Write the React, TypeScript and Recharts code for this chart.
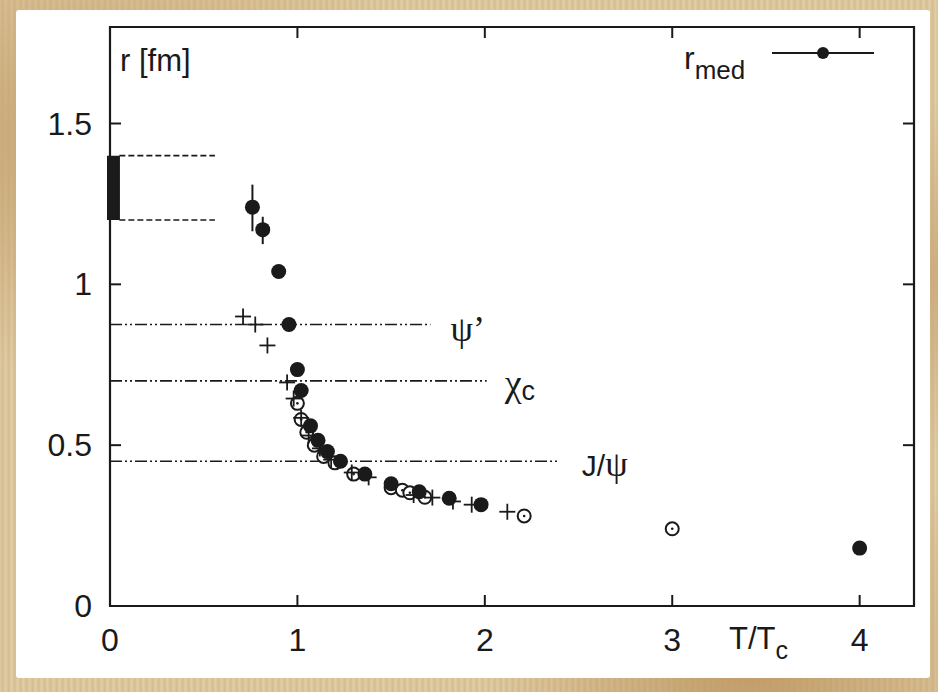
import { ScatterChart, Scatter, XAxis, YAxis, ReferenceLine, ReferenceArea, ErrorBar, Label } from 'recharts';

// median radius r_med (filled circles) with error bars on the first two
const medT = [0.76, 0.815, 0.9, 0.955, 1.0, 1.02, 1.07, 1.11, 1.16, 1.23, 1.36, 1.5, 1.65, 1.81, 1.98, 4.0];
const medR = [1.24, 1.17, 1.04, 0.875, 0.735, 0.67, 0.56, 0.515, 0.48, 0.45, 0.41, 0.38, 0.355, 0.335, 0.315, 0.18];
const medErrLo = [0.075, 0.045, 0, 0, 0, 0, 0, 0, 0, 0, 0, 0, 0, 0, 0, 0];
const medErrHi = [0.07, 0.04, 0, 0, 0, 0, 0, 0, 0, 0, 0, 0, 0, 0, 0, 0];

// open circles
const openT = [1.0, 1.02, 1.05, 1.09, 1.14, 1.2, 1.3, 1.5, 1.56, 1.6, 1.68, 2.21, 3.0];
const openR = [0.63, 0.58, 0.54, 0.5, 0.465, 0.445, 0.41, 0.368, 0.36, 0.352, 0.338, 0.28, 0.24];

// crosses
const plusT = [0.71, 0.775, 0.84, 0.945, 0.98, 1.02, 1.06, 1.12, 1.18, 1.29, 1.38, 1.62, 1.72, 1.83, 1.93, 2.12];
const plusR = [0.9, 0.875, 0.81, 0.695, 0.645, 0.585, 0.53, 0.49, 0.455, 0.415, 0.4, 0.345, 0.337, 0.325, 0.315, 0.293];

const xTicks = [0, 1, 2, 3, 4];
const yTicks = [0, 0.5, 1, 1.5];

// vacuum radii of the states: [r, line end in T/Tc]
const states = [
  { name: 'psi2', r: 0.875, end: 1.71 },
  { name: 'chic', r: 0.7, end: 2.01 },
  { name: 'jpsi', r: 0.45, end: 2.4 },
];
const bandLo = 1.2, bandHi = 1.4, bandEnd = 0.56;

const medData = medT.map((t, i) => ({ t, r: medR[i], err: [medErrLo[i], medErrHi[i]] }));
const openData = openT.map((t, i) => ({ t, r: openR[i] }));
const plusData = plusT.map((t, i) => ({ t, r: plusR[i] }));

const W = 938, H = 692;
const TOP = 27, RIGHT = 914;
const INK = '#1a1a1a';
const SANS = "'Liberation Sans', Arial, sans-serif";
const SERIF = "'Liberation Serif', 'DejaVu Serif', serif";

const Filled = (p: any) => <circle cx={p.cx} cy={p.cy} r={7.5} fill={INK} />;
const Open = (p: any) => (
  <g>
    <circle cx={p.cx} cy={p.cy} r={6.5} fill="#fff" stroke={INK} strokeWidth={2} />
    <circle cx={p.cx} cy={p.cy} r={1.3} fill={INK} />
  </g>
);
const Plus = (p: any) => (
  <g stroke={INK} strokeWidth={1.8}>
    <line x1={p.cx - 8} y1={p.cy} x2={p.cx + 8} y2={p.cy} />
    <line x1={p.cx} y1={p.cy - 8} x2={p.cx} y2={p.cy + 8} />
  </g>
);

const XTick = (p: any) => (
  <g>
    <line x1={p.x} y1={p.y} x2={p.x} y2={p.y - 11} stroke={INK} strokeWidth={2} />
    <line x1={p.x} y1={TOP} x2={p.x} y2={TOP + 11} stroke={INK} strokeWidth={2} />
    <text x={p.x} y={p.y + 34} textAnchor="middle" dominantBaseline="central" fontFamily={SANS} fontSize={32} fill={INK}>
      {p.payload.value}
    </text>
  </g>
);
const YTick = (p: any) => (
  <g>
    <line x1={p.x} y1={p.y} x2={p.x + 11} y2={p.y} stroke={INK} strokeWidth={2} />
    <line x1={RIGHT - 11} y1={p.y} x2={RIGHT} y2={p.y} stroke={INK} strokeWidth={2} />
    <text x={p.x - 18} y={p.y} textAnchor="end" dominantBaseline="central" fontFamily={SANS} fontSize={32} fill={INK}>
      {p.payload.value}
    </text>
  </g>
);

const stateLabel = (name: string) => (p: any) => {
  const vb = p.viewBox || {};
  const x = vb.x + (vb.width || 0);
  const y = vb.y;
  if (name === 'psi2')
    return (
      <text x={x + 20} y={y + 16} fontFamily={SERIF} fontSize={36} fill={INK}>ψ’</text>
    );
  if (name === 'chic')
    return (
      <text x={x + 18} y={y + 15} fill={INK}>
        <tspan fontFamily={SERIF} fontSize={38}>χ</tspan>
        <tspan fontFamily={SANS} fontSize={27} dy={4}>c</tspan>
      </text>
    );
  return (
    <text x={x + 22} y={y + 15} fill={INK}>
      <tspan fontFamily={SANS} fontSize={30}>J/</tspan>
      <tspan fontFamily={SERIF} fontSize={36}>ψ</tspan>
    </text>
  );
};

const parchment =
  'radial-gradient(ellipse at 10% 20%, #c6a472 0, transparent 30%),' +
  'radial-gradient(ellipse at 80% 95%, #bf9a66 0, transparent 25%),' +
  'radial-gradient(ellipse at 95% 40%, #cbab7c 0, transparent 30%),' +
  'repeating-linear-gradient(90deg, #dfcaa3 0, #d5bd90 3px, #e4d1ad 6px),' +
  '#dbc49d';

export default function App() {
  return (
    <div style={{ position: 'absolute', left: 0, top: 0, width: W, height: H, background: parchment, overflow: 'hidden' }}>
      <div style={{ position: 'absolute', left: 16, top: 10, width: 914, height: 668, background: '#fff', borderRadius: 3 }} />
      <div style={{ position: 'absolute', left: 0, top: 0 }}>
        <ScatterChart width={W} height={H} margin={{ top: TOP, right: W - RIGHT, left: 0, bottom: 0 }}>
          <XAxis
            type="number"
            dataKey="t"
            domain={[0, 4.29]}
            ticks={xTicks}
            height={86}
            tickSize={0}
            tickMargin={0}
            tickLine={false}
            axisLine={false}
            tick={<XTick />}
            allowDataOverflow
          />
          <YAxis
            type="number"
            dataKey="r"
            domain={[0, 1.8]}
            ticks={yTicks}
            width={110}
            tickSize={0}
            tickMargin={0}
            tickLine={false}
            axisLine={false}
            tick={<YTick />}
            allowDataOverflow
          />
          <ReferenceArea x1={0} x2={4.29} y1={0} y2={1.8} fill="none" stroke={INK} strokeWidth={2.2} ifOverflow="visible" />
          <ReferenceArea x1={-0.016} x2={0.053} y1={bandLo} y2={bandHi} fill={INK} fillOpacity={1} stroke="none" ifOverflow="visible" />
          <ReferenceLine segment={[{ x: 0.05, y: bandHi }, { x: bandEnd, y: bandHi }]} stroke={INK} strokeWidth={1.6} strokeDasharray="6 3" ifOverflow="visible" />
          <ReferenceLine segment={[{ x: 0.05, y: bandLo }, { x: bandEnd, y: bandLo }]} stroke={INK} strokeWidth={1.6} strokeDasharray="6 3" ifOverflow="visible" />
          {states.map((s) => (
            <ReferenceLine
              key={s.name}
              segment={[{ x: 0, y: s.r }, { x: s.end, y: s.r }]}
              stroke={INK}
              strokeWidth={1.6}
              strokeDasharray="12 3 2 3 2 3"
              ifOverflow="visible"
            >
              <Label content={stateLabel(s.name)} />
            </ReferenceLine>
          ))}
          <Scatter data={openData} shape={<Open />} isAnimationActive={false} />
          <Scatter data={plusData} shape={<Plus />} isAnimationActive={false} />
          <Scatter data={medData} shape={<Filled />} isAnimationActive={false}>
            <ErrorBar dataKey="err" direction="y" width={0} stroke={INK} strokeWidth={2} />
          </Scatter>
        </ScatterChart>
      </div>
      <div style={{ position: 'absolute', left: 120, top: 45, fontFamily: SANS, fontSize: 31, color: INK, lineHeight: 1 }}>r [fm]</div>
      <div style={{ position: 'absolute', left: 684, top: 42, fontFamily: SANS, fontSize: 32, color: INK, lineHeight: 1 }}>
        r<sub style={{ fontSize: 26, verticalAlign: -10 }}>med</sub>
      </div>
      <svg style={{ position: 'absolute', left: 0, top: 0 }} width={W} height={H}>
        <line x1={772} y1={53} x2={874} y2={53} stroke={INK} strokeWidth={2} />
        <circle cx={823} cy={53} r={6} fill={INK} />
      </svg>
      <div style={{ position: 'absolute', left: 729, top: 623, fontFamily: SANS, fontSize: 31, color: INK, lineHeight: 1 }}>
        T/T<sub style={{ fontSize: 25, verticalAlign: -10 }}>c</sub>
      </div>
    </div>
  );
}
